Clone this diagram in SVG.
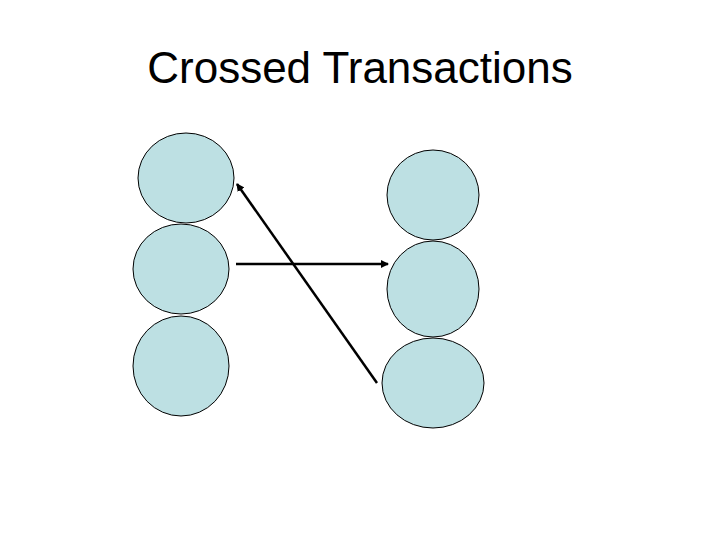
<svg xmlns="http://www.w3.org/2000/svg" width="720" height="540" viewBox="0 0 720 540">
<style>
.n{fill:#bde0e3;stroke:#000;stroke-width:1}
.c{stroke:#000;stroke-width:2.5;fill:none;marker-end:url(#a)}
text{font-family:"Liberation Sans",Arial,sans-serif}
</style>
<defs><marker id="a" markerWidth="8" markerHeight="8" refX="7" refY="4" orient="auto" markerUnits="userSpaceOnUse"><path d="M0,0 L8,4 L0,8 z" fill="#000"/></marker></defs>
<rect width="720" height="540" fill="#fff"/>
<text x="360" y="83" font-size="44" text-anchor="middle">Crossed Transactions</text>
<g id="l1"><ellipse class="n" cx="186" cy="178" rx="48" ry="45"/></g>
<g id="l2"><ellipse class="n" cx="181" cy="269" rx="48" ry="45"/></g>
<g id="l3"><ellipse class="n" cx="181" cy="366" rx="48" ry="50"/></g>
<g id="r1"><ellipse class="n" cx="433" cy="195" rx="46" ry="45"/></g>
<g id="r2"><ellipse class="n" cx="433" cy="289" rx="46" ry="48"/></g>
<g id="r3"><ellipse class="n" cx="433" cy="383" rx="51" ry="45"/></g>
<g id="connectors">
<line class="c" x1="377" y1="383" x2="237" y2="184"/>
<line class="c" x1="236" y1="264" x2="388" y2="264"/>
</g>
</svg>
